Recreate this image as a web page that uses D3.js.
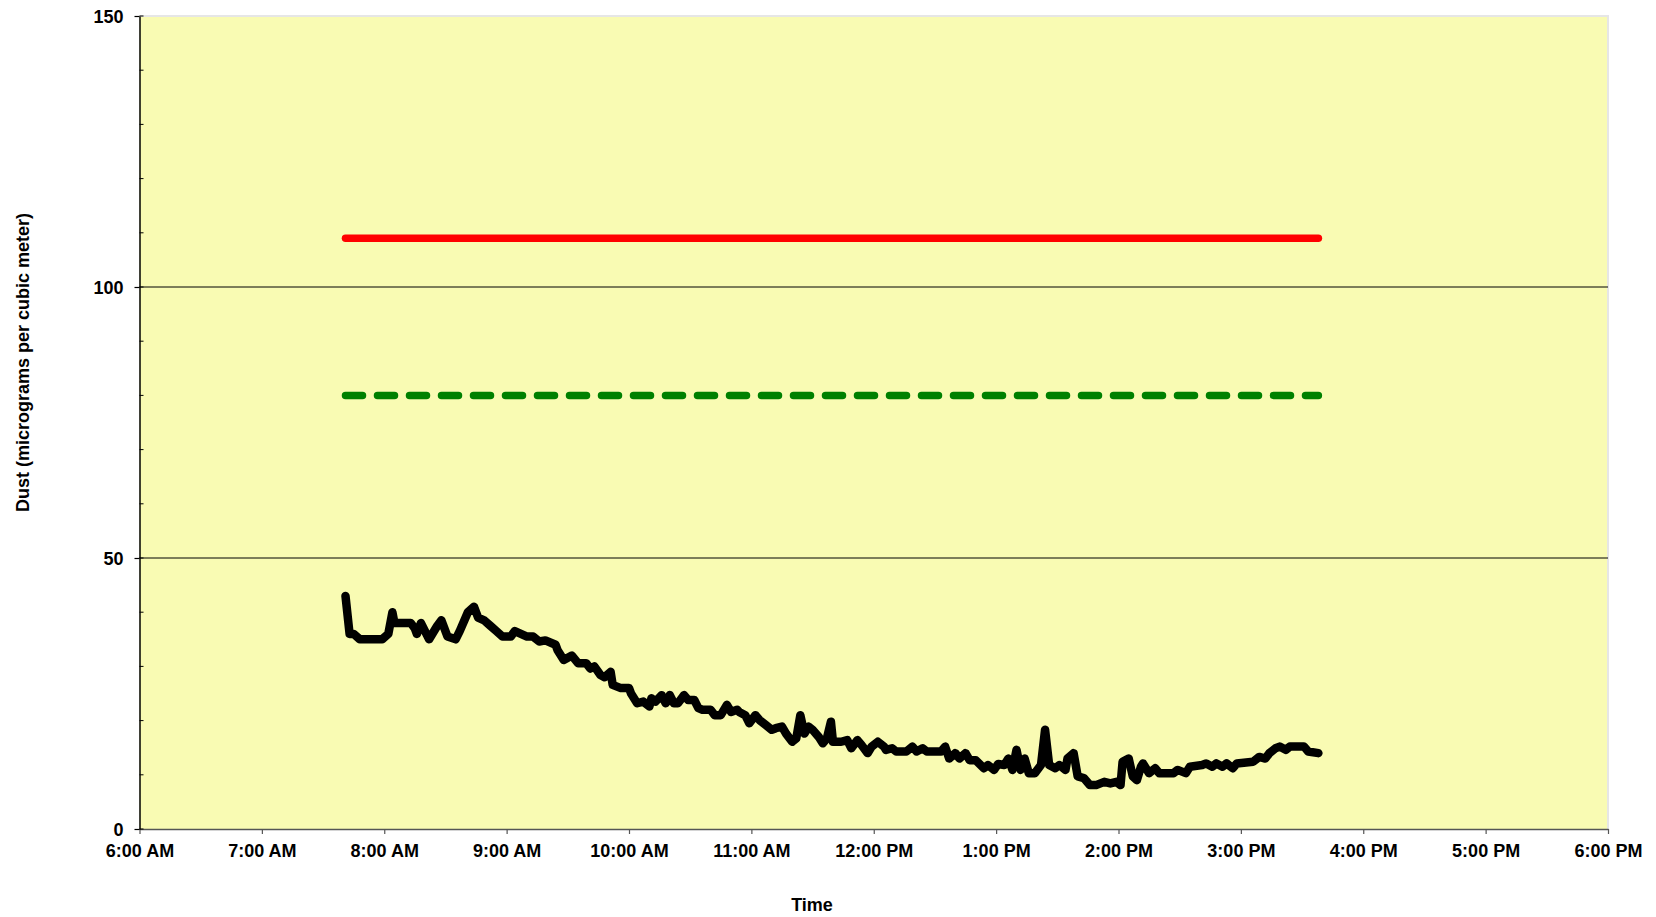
<!DOCTYPE html>
<html>
<head>
<meta charset="utf-8">
<script src="https://cdn.jsdelivr.net/npm/d3@7"></script>
<style>
  html, body { margin: 0; padding: 0; background: #ffffff; }
  svg { display: block; }
  text { font-family: "Liberation Sans", Arial, sans-serif; font-weight: bold; fill: #000; }
</style>
</head>
<body>
<svg id="chart" width="1656" height="917"></svg>
<script>
// ---- Data ----
const times = ["7:41","7:43","7:45","7:48","7:59","8:02","8:04","8:05","8:13","8:15","8:16","8:18","8:22","8:26","8:28","8:31","8:35","8:37","8:41","8:44","8:46","8:49","8:52","8:55","8:58","9:02","9:04","9:07","9:10","9:13","9:16","9:19","9:24","9:25","9:28","9:32","9:35","9:39","9:41","9:43","9:46","9:48","9:51","9:52","9:56","10:00","10:01","10:04","10:07","10:10","10:11","10:13","10:16","10:18","10:20","10:22","10:24","10:27","10:29","10:32","10:34","10:36","10:40","10:42","10:45","10:48","10:50","10:53","10:54","10:57","10:59","11:02","11:04","11:07","11:10","11:12","11:15","11:17","11:20","11:22","11:24","11:26","11:28","11:30","11:33","11:35","11:37","11:39","11:40","11:44","11:47","11:49","11:52","11:54","11:57","11:59","12:02","12:05","12:06","12:09","12:11","12:16","12:19","12:21","12:24","12:26","12:33","12:35","12:37","12:40","12:42","12:45","12:47","12:50","12:54","12:56","12:59","13:01","13:04","13:06","13:08","13:10","13:12","13:14","13:16","13:19","13:22","13:24","13:26","13:29","13:31","13:34","13:35","13:38","13:40","13:43","13:46","13:49","13:53","13:56","13:59","14:01","14:02","14:05","14:07","14:09","14:11","14:12","14:15","14:18","14:20","14:27","14:29","14:33","14:35","14:41","14:43","14:46","14:48","14:51","14:53","14:56","14:58","15:06","15:09","15:12","15:14","15:17","15:19","15:22","15:24","15:31","15:33","15:38"];
const dust = [43,36,36,35,35,36,40,38,38,37,36,38,35,37.5,38.5,35.5,35,36.5,40,41,39,38.5,37.5,36.5,35.5,35.5,36.5,36,35.5,35.5,34.6,34.8,34,33,31.2,32,30.6,30.6,29.6,30,28.4,28,29,26.6,26,26,25,23.2,23.5,22.6,24.1,23.5,24.7,23.2,24.7,23.2,23.2,24.7,23.8,23.8,22.3,22,22,21,21,22.9,21.6,22,21.6,21,19.5,21,20.1,19.2,18.3,18.6,18.9,17.6,16.1,16.7,21,17.6,18.9,18.3,17,15.8,16.7,19.8,16.1,16.1,16.4,14.9,16.4,15.5,14,15.2,16.1,15.2,14.6,14.9,14.3,14.3,15.2,14.3,14.9,14.3,14.3,15.2,13,14,13,14,12.7,12.7,11.2,11.8,10.9,12,11.8,13,10.9,14.6,10.9,13,10.3,10.3,11.8,18.3,11.8,11.2,11.8,10.9,13,14,9.7,9.4,8.1,8.1,8.7,8.4,8.7,8.1,12.4,13,9.7,9,11.5,12.1,10.3,11.2,10.3,10.3,10.9,10.3,11.5,11.8,12.1,11.5,12.1,11.5,12.1,11.2,12.1,12.4,13.3,13,14,14.9,15.2,14.6,15.2,15.2,14.3,14];
const limitTimes = ["7:41", "15:38"];
const redLimit = 109;
const greenLimit = 80;
const xDomain = ["6:00", "18:00"];
const yTicksMajor = [0, 50, 100, 150];
const yTicksMinor = [0,10,20,30,40,50,60,70,80,90,100,110,120,130,140,150];
const xTitle = "Time";
const yTitle = "Dust (micrograms per cubic meter)";

// ---- Helpers ----
const parseT = s => { const [h, m] = s.split(":").map(Number); return new Date(2000, 0, 1, h, m); };

// ---- Layout ----
const svg = d3.select("#chart");
const L = 139.5, R = 1608, T = 16, B = 829;

const x = d3.scaleTime().domain(xDomain.map(parseT)).range([L, R]);
const y = d3.scaleLinear().domain([0, 150]).range([B, T]);

// plot background
svg.append("rect").attr("x", L).attr("y", T).attr("width", R - L).attr("height", B - T)
  .attr("fill", "#f9fbb3");
// light border top/right
svg.append("path").attr("d", `M${L},${T}H${R}V${B}`).attr("fill", "none")
  .attr("stroke", "#e6e6e6").attr("stroke-width", 2);

// gridlines
svg.append("g").selectAll("line").data([50, 100]).join("line")
  .attr("x1", L).attr("x2", R).attr("y1", d => y(d)).attr("y2", d => y(d))
  .attr("stroke", "#000").attr("stroke-width", 1);

// x axis
const xAxis = d3.axisBottom(x).ticks(d3.timeHour.every(1)).tickFormat(d3.timeFormat("%-I:%M %p"))
  .tickSizeInner(5).tickSizeOuter(0).tickPadding(23);
const gx = svg.append("g").attr("transform", `translate(0,${B})`).call(xAxis);
gx.select(".domain").attr("stroke", "#555").attr("stroke-width", 1.5);
gx.selectAll(".tick line").attr("stroke", "#555").attr("stroke-width", 1.2);
gx.selectAll("text").attr("font-size", 18).attr("dy", 0);

// y axis minor ticks (inside)
svg.append("g").selectAll("line").data(yTicksMinor).join("line")
  .attr("x1", L).attr("x2", L + 4).attr("y1", d => y(d)).attr("y2", d => y(d))
  .attr("stroke", "#000").attr("stroke-width", 1);
// y axis major
const yAxis = d3.axisLeft(y).tickValues(yTicksMajor).tickSizeInner(5).tickSizeOuter(0).tickPadding(11);
const gy = svg.append("g").attr("transform", `translate(${L},0)`).call(yAxis);
gy.select(".domain").attr("stroke", "#000").attr("stroke-width", 1.5);
gy.selectAll(".tick line").attr("stroke", "#000").attr("stroke-width", 1.2);
gy.selectAll("text").attr("font-size", 18).attr("dy", "0.36em");

// axis titles
svg.append("text").attr("x", 812).attr("y", 911).attr("text-anchor", "middle")
  .attr("font-size", 18).text(xTitle);
svg.append("text").attr("transform", `translate(29,${(T + B) / 2 - 60}) rotate(-90)`)
  .attr("text-anchor", "middle").attr("font-size", 18).text(yTitle);

// limit lines
const lim = d3.line().x(d => x(parseT(d.t))).y(d => y(d.v));
svg.append("path").datum(limitTimes.map(t => ({ t, v: redLimit })))
  .attr("d", lim).attr("fill", "none").attr("stroke", "#ff0000")
  .attr("stroke-width", 7.5).attr("stroke-linecap", "round");
svg.append("path").datum(limitTimes.map(t => ({ t, v: greenLimit })))
  .attr("d", lim).attr("fill", "none").attr("stroke", "#008000")
  .attr("stroke-width", 7.5).attr("stroke-linecap", "round").attr("stroke-dasharray", "17,15");

// dust series
const series = times.map((t, i) => ({ t, v: dust[i] }));
svg.append("path").datum(series)
  .attr("d", d3.line().x(d => x(parseT(d.t))).y(d => y(d.v)))
  .attr("fill", "none").attr("stroke", "#000").attr("stroke-width", 8.5)
  .attr("stroke-linejoin", "round").attr("stroke-linecap", "round");
</script>
</body>
</html>
